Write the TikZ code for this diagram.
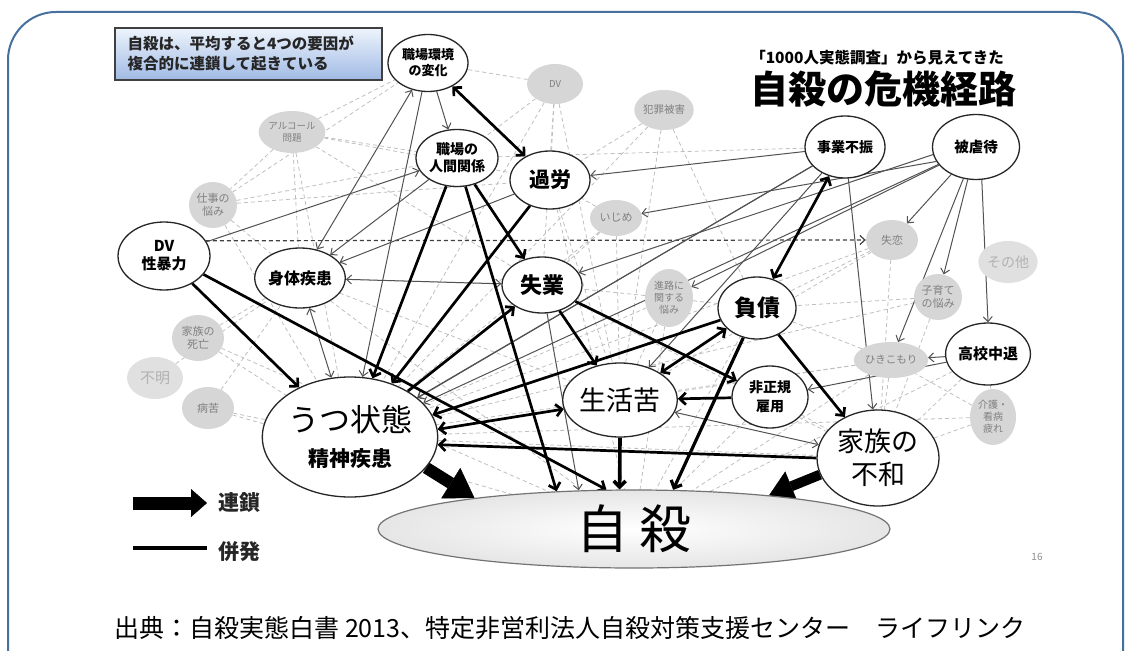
\documentclass[tikz,border=0pt]{standalone}
\usepackage{fontspec}
\setmainfont{Noto Sans CJK JP}
\usetikzlibrary{shapes.geometric,arrows.meta,backgrounds}
\definecolor{framec}{RGB}{70,112,158}
\definecolor{notetop}{RGB}{238,244,252}
\definecolor{notebot}{RGB}{160,186,228}
\newcommand\fz[2]{\fontsize{#1}{#2}\selectfont}
\tikzset{
  mn/.style={ellipse, draw=black!85, line width=1.3pt, fill=white, inner sep=0pt, align=center},
  bub/.style={ellipse, fill=black!16, inner sep=0pt, align=center, text=black!50},
  tk/.style={draw=black, line width=2.7pt, -{Straight Barb[length=6pt,width=12pt]}},
  tkd/.style={draw=black, line width=2.7pt, {Straight Barb[length=6pt,width=12pt]}-{Straight Barb[length=6pt,width=12pt]}},
  tn/.style={draw=black!68, line width=1pt, -{Straight Barb[length=5pt,width=9pt]}},
  tnd/.style={draw=black!68, line width=1pt, {Straight Barb[length=5pt,width=9pt]}-{Straight Barb[length=5pt,width=9pt]}},
  dl/.style={draw=black!25, line width=0.8pt, dash pattern=on 4pt off 3pt},
  dva/.style={draw=black!75, line width=1.2pt, dash pattern=on 4pt off 3pt, -{Straight Barb[length=5pt,width=9pt]}},
  bigarrow/.style={draw=black, line width=12pt, -{Triangle[length=28pt,width=36pt,line width=0.4pt]}},
  bigarrowb/.style={draw=black, line width=10pt, -{Triangle[length=24pt,width=32pt,line width=0.4pt]}},
}
\begin{document}
\begin{tikzpicture}[x=1pt,y=-1pt]
\useasboundingbox (0,0) rectangle (1131,650);
\begin{scope}
\clip (0,0) rectangle (1131,650);
\draw[framec, line width=2pt, rounded corners=48pt] (8,12) rectangle (1123,700);
\end{scope}

% note box
\node[draw=black!75, line width=1.6pt, top color=notetop, bottom color=notebot, minimum width=267pt, minimum height=52pt, inner sep=0pt] (note) at (248.5,54) {};
\node[anchor=west, align=left, font=\bfseries\fz{15.5}{20}, text=black!85] (notetext) at (124,54) {自殺は、平均すると4つの要因が\\複合的に連鎖して起きている};

% titles
\node[font=\bfseries\fz{15.5}{18}] (sub) at (877,58) {「1000人実態調査」から見えてきた};
\node[font=\bfseries\fz{38}{42}] (title) at (883,89) {自殺の危機経路};

% grey bubbles
\node[bub, minimum width=58pt, minimum height=42pt, font=\fz{9.5}{12}] (alc) at (292,132) {アルコール\\問題};
\node[bub, minimum width=48pt, minimum height=46pt, font=\fz{11}{13}] (shigoto) at (213,205) {仕事の\\悩み};
\node[bub, minimum width=56pt, minimum height=40pt, font=\fz{9.5}{12}] (dvg) at (555,84) {DV};
\node[bub, minimum width=58pt, minimum height=40pt, font=\fz{10.5}{12}] (hanzai) at (664,110) {犯罪被害};
\node[bub, minimum width=52pt, minimum height=36pt, font=\fz{11}{13}] (ijime) at (616,218) {いじめ};
\node[bub, minimum width=52pt, minimum height=40pt, font=\fz{11}{13}] (shitsuren) at (892,240) {失恋};
\node[bub, minimum width=58pt, minimum height=42pt, font=\fz{14}{16}, text=black!30, fill=black!12] (sonota) at (1008,262) {その他};
\node[bub, minimum width=48pt, minimum height=46pt, font=\fz{11}{13}] (kosodate) at (938,297) {子育て\\の悩み};
\node[bub, minimum width=48pt, minimum height=58pt, font=\fz{10}{12}] (shinro) at (669,298) {進路に\\関する\\悩み};
\node[bub, minimum width=58pt, minimum height=36pt, font=\fz{10.5}{12}] (hiki) at (891,360) {ひきこもり};
\node[bub, minimum width=46pt, minimum height=56pt, font=\fz{10}{12}] (kaigo) at (993,417) {介護・\\看病\\疲れ};
\node[bub, minimum width=52pt, minimum height=46pt, font=\fz{11}{13}] (shibo) at (198,338) {家族の\\死亡};
\node[bub, minimum width=56pt, minimum height=42pt, font=\fz{15}{17}, text=black!30, fill=black!12] (fumei) at (155,378) {不明};
\node[bub, minimum width=52pt, minimum height=42pt, font=\fz{11}{13}] (byoku) at (208,408) {病苦};

% main nodes
\node[mn, minimum width=80pt, minimum height=57pt, font=\bfseries\fz{13}{16}] (shokuba) at (428,63) {職場環境\\の変化};
\node[mn, minimum width=82pt, minimum height=57pt, font=\bfseries\fz{14}{17}] (ningen) at (457,158) {職場の\\人間関係};
\node[mn, minimum width=80pt, minimum height=58pt, font=\bfseries\fz{21}{24}] (karo) at (550,180) {過労};
\node[mn, minimum width=80pt, minimum height=56pt, font=\bfseries\fz{22}{25}] (shitsugyo) at (542,285) {失業};
\node[mn, minimum width=92pt, minimum height=68pt, font=\bfseries\fz{15}{18}] (dv) at (164,256) {DV\\性暴力};
\node[mn, minimum width=80pt, minimum height=60pt, font=\bfseries\fz{16}{18}] (shintai) at (300,278) {身体疾患};
\node[mn, minimum width=146pt, minimum height=120pt] (utsu) at (350,437) {\fz{31}{36}うつ状態\\[14pt]\bfseries\fz{21}{24}精神疾患};
\node[mn, minimum width=105pt, minimum height=74pt, font=\fz{27}{30}] (seikatsu) at (620,400) {生活苦};
\node[mn, minimum width=78pt, minimum height=62pt, font=\bfseries\fz{23}{26}] (fusai) at (757,308) {負債};
\node[mn, minimum width=76pt, minimum height=62pt, font=\bfseries\fz{14}{19}] (hisei) at (770,397) {非正規\\雇用};
\node[mn, minimum width=122pt, minimum height=96pt, font=\fz{27}{33}] (kazoku) at (878,458) {家族の\\不和};
\node[mn, minimum width=78pt, minimum height=62pt, font=\bfseries\fz{15}{18}] (koko) at (988,354) {高校中退};
\node[mn, minimum width=80pt, minimum height=62pt, font=\bfseries\fz{14}{17}] (jigyo) at (845,147) {事業不振};
\node[mn, minimum width=87pt, minimum height=65pt, font=\bfseries\fz{14.5}{17}] (hiko) at (976,147) {被虐待};
\node[ellipse, draw=black!55, line width=1.2pt, inner color=white, outer color=black!10, minimum width=512pt, minimum height=78pt, inner sep=0pt, font=\fz{52}{56}] (jisatsu) at (634,529) {自\hspace{12pt}殺};

% legend and misc
\node[anchor=west, font=\bfseries\fz{21}{24}, text=black!85] (lg1) at (215,503) {連鎖};
\node[anchor=west, font=\bfseries\fz{21}{24}, text=black!85] (lg2) at (215,552) {併発};
\coordinate (lga) at (133,503);
\coordinate (lgb) at (133,548);
\draw[draw=black, line width=13pt, -{Triangle[length=16pt,width=28pt,line width=0.4pt]}] (lga) -- ([xshift=-8pt]lg1.west);
\draw[black, line width=3.5pt] (lgb) -- ([xshift=-8pt]lg2.west |- lgb);
\node[text=black!45, font=\fz{10}{12}] (pg) at (1037,557) {16};
\node[font=\fz{25}{28}] (cap) at (570,628) {出典：自殺実態白書 2013、特定非営利法人自殺対策支援センター　ライフリンク};

\begin{scope}[on background layer]
% dashed web
\foreach \a/\b in {alc/shokuba, alc/ningen, alc/shintai, alc/utsu, alc/shitsugyo, alc/shigoto, alc/karo,
  shigoto/shokuba, shigoto/ningen, shigoto/utsu, shigoto/shintai, shigoto/karo,
  dvg/karo, dvg/ningen, dvg/shitsugyo, dvg/seikatsu, dvg/shokuba, dvg/utsu,
  ningen/jigyo, hanzai/karo, hanzai/seikatsu, hanzai/utsu, hanzai/fusai,
  ijime/utsu, ijime/shitsugyo, ijime/seikatsu, ijime/karo,
  shitsuren/utsu, shitsuren/fusai, shitsuren/kazoku, shitsuren/seikatsu,
  kosodate/kazoku, kosodate/fusai, kosodate/utsu,
  shinro/seikatsu, shinro/utsu, shinro/fusai, shinro/jisatsu, shinro/shitsugyo,
  hiki/kazoku, hiki/utsu, hiki/fusai, hiki/jisatsu, hiki/seikatsu,
  kaigo/kazoku, kaigo/koko, kaigo/hiki, kaigo/utsu,
  shibo/utsu, shibo/shintai, shibo/jisatsu, fumei/shintai,
  byoku/utsu, byoku/jisatsu, byoku/shintai,
  hisei/kazoku, hisei/jisatsu, koko/jisatsu, koko/kazoku, utsu/kazoku,
  karo/jisatsu, shitsugyo/kazoku, jigyo/jisatsu, shintai/jisatsu, shintai/seikatsu,
  karo/seikatsu, ningen/seikatsu, shintai/shitsugyo}
  \draw[dl] (\a) -- (\b);
\draw[dva] (dv.20) -- (shitsuren.west);
% thin arrows (co-occurrence)
\draw[tn] (shokuba) -- (ningen);
\draw[tnd] (shokuba) -- (shintai);
\draw[tn] (shokuba) -- (utsu);
\draw[tn] (dv) -- (ningen);
\draw[tn] (jigyo) -- (karo);
\draw[tn] (hiko.200) -- (ijime);
\draw[tn] (jigyo) -- (kazoku);
\draw[tn] (jigyo) -- (seikatsu);
\draw[tn] (jigyo) -- (utsu);
\draw[tn] (jigyo.210) -- (utsu.30);
\draw[tn] (hiko) -- (utsu);
\draw[tn] (hiko.190) -- (shitsugyo);
\draw[tn] (hiko) -- (shinro);
\draw[tn] (hiko) -- (shitsuren);
\draw[tn] (hiko) -- (kosodate);
\draw[tn] (hiko) -- (hiki);
\draw[tn] (hiko.-80) -- (koko.north);
\draw[tn] (koko) -- (hiki);
\draw[tn] (koko) -- (hisei);
\draw[tnd] (seikatsu) -- (kazoku);
\draw[tnd] (shitsugyo) -- (shintai);
\draw[tnd] (shintai) -- (utsu);
\draw[tn] (ningen) -- (shintai);
\draw[tn] (karo) -- (shintai);
\draw[tn] (shitsugyo) -- (jisatsu.145);
% thick arrows (chain)
\draw[tkd] (shokuba) -- (karo);
\draw[tk] (ningen) -- (utsu);
\draw[tk] (ningen) -- (jisatsu.154);
\draw[tk] (ningen) -- (shitsugyo);
\draw[tk] (karo) -- (utsu);
\draw[tk] (dv) -- (utsu);
\draw[tk] (dv.-25) -- (jisatsu.125);
\draw[tk] (utsu) -- (shitsugyo);
\draw[tk] (shitsugyo) -- (seikatsu);
\draw[tk] (shitsugyo) -- (hisei);
\draw[tk, line width=3.6pt] (seikatsu.south) -- (jisatsu.110);
\draw[tkd] (fusai) -- (seikatsu);
\draw[tk, line width=3.2pt] (fusai) -- (jisatsu.45);
\draw[tk] (fusai) -- (kazoku);
\draw[tk] (fusai) -- (utsu.15);
\draw[tk] (hisei) -- (seikatsu);
\draw[tk] (kazoku.west) -- (utsu.-5);
\draw[tkd] (utsu.5) -- (seikatsu);
\draw[tkd] (jigyo) -- (fusai);
\draw[bigarrow] (utsu.-22) -- (jisatsu.169);
\draw[bigarrowb] (kazoku.-164) -- (jisatsu.14);
\end{scope}
\end{tikzpicture}
\end{document}
